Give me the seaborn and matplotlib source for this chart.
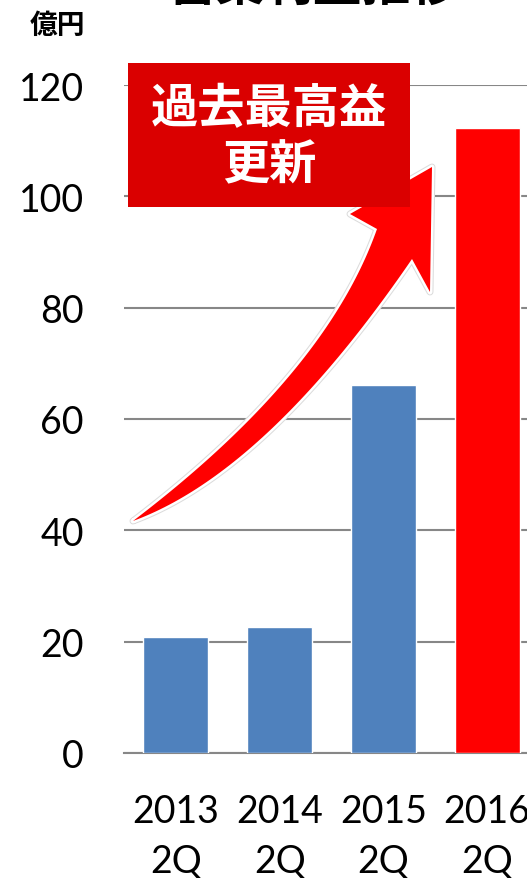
import numpy as np
import pandas as pd
import matplotlib
matplotlib.use("Agg")
import matplotlib.pyplot as plt
import matplotlib.patheffects as pe
from matplotlib.patches import Polygon, Rectangle
import seaborn as sns

# ---- data -------------------------------------------------------------
periods = ["2013\n2Q", "2014\n2Q", "2015\n2Q", "2016\n2Q"]
profit = [20.8, 22.6, 66.1, 112.3]          # 億円
bar_colors = ["#4F81BD", "#4F81BD", "#4F81BD", "#FF0000"]
y_ticks = [0, 20, 40, 60, 80, 100, 120]

title = "営業利益推移"
unit_label = "億円"
badge_text = "過去最高益\n更新"

# ---- style ------------------------------------------------------------
sns.set_theme(style="white")
plt.rcParams["font.family"] = ["Lato", "Noto Sans CJK JP", "DejaVu Sans"]
cjk = ["Noto Sans CJK JP", "DejaVu Sans"]
GRID = "#878787"

W, H = 527, 879
fig = plt.figure(figsize=(W / 100, H / 100), dpi=100)
ax = fig.add_axes([124 / W, 125 / H, 415 / W, 668 / H])

df = pd.DataFrame({"period": periods, "profit": profit})
sns.barplot(data=df, x="period", y="profit", hue="period",
            palette=bar_colors, width=0.627, saturation=1,
            legend=False, ax=ax, zorder=3)

ax.set_xlim(-0.5, len(periods) - 0.5)
ax.set_ylim(y_ticks[0], y_ticks[-1])
ax.set_yticks(y_ticks)
ax.set_xlabel("")
ax.set_ylabel("")

ax.yaxis.grid(True, color=GRID, linewidth=1.5)
ax.xaxis.grid(False)
ax.set_axisbelow(True)
for side in ("left", "top", "right"):
    ax.spines[side].set_visible(False)
ax.spines["bottom"].set_color(GRID)
ax.spines["bottom"].set_linewidth(1.5)

ax.tick_params(axis="y", length=0, pad=29, labelsize=27, labelcolor="black")
ax.set_xticks(np.arange(len(periods) + 1) - 0.5, minor=True)
ax.tick_params(axis="x", which="major", length=0, pad=29, labelsize=27,
               labelcolor="black")
ax.tick_params(axis="x", which="minor", length=10, width=1.5,
               color=GRID, direction="out")
for lab in ax.get_xticklabels():
    lab.set_linespacing(1.45)

# ---- headings ---------------------------------------------------------
fig.text(313 / W, 1 - 0.5 / H, title, ha="center", va="baseline",
         fontsize=35, fontweight="bold", family=cjk, color="black")
fig.text(57 / W, 1 - 26 / H, unit_label, ha="center", va="center",
         fontsize=20, fontweight="bold", family=cjk, color="black")

# ---- badge ------------------------------------------------------------
def fig_xy(px, py):
    return px / W, 1 - py / H

bx0, by0 = fig_xy(128, 208)
bx1, by1 = fig_xy(410, 64)
ax.add_patch(Rectangle((bx0, by0), bx1 - bx0, by1 - by0,
                       transform=fig.transFigure, facecolor="#DA0000",
                       edgecolor="none", clip_on=False, zorder=6))
fig.text(269 / W, 1 - 137.5 / H, badge_text, ha="center", va="center",
         fontsize=34, fontweight="bold", family=cjk, color="white",
         linespacing=1.22, zorder=7)

# ---- rising arrow -----------------------------------------------------
def qbez(p0, c, p2, n=60):
    t = np.linspace(0, 1, n)[:, None]
    p0, c, p2 = map(np.asarray, (p0, c, p2))
    return (1 - t) ** 2 * p0 + 2 * t * (1 - t) * c + t ** 2 * p2

tail = (133, 522)
notch_l, notch_r = (377, 230), (412, 260)
barb_l, barb_r, tip = (350, 215), (430, 293), (432, 168)
upper = qbez(tail, (326, 375), notch_l)
lower = qbez(tail, (266, 473), notch_r)
outline_px = np.vstack([upper, [barb_l, tip, barb_r], lower[::-1]])
outline = np.column_stack([outline_px[:, 0] / W, 1 - outline_px[:, 1] / H])

arrow = Polygon(outline, closed=True, transform=fig.transFigure,
                facecolor="#FF0000", edgecolor="none",
                clip_on=False, zorder=5)
arrow.set_path_effects([
    pe.Stroke(linewidth=5, foreground="#dcdcdc", joinstyle="round"),
    pe.Stroke(linewidth=3.5, foreground="white", joinstyle="round"),
    pe.Normal()])
ax.add_patch(arrow)

fig.savefig("out.png", dpi=100)
